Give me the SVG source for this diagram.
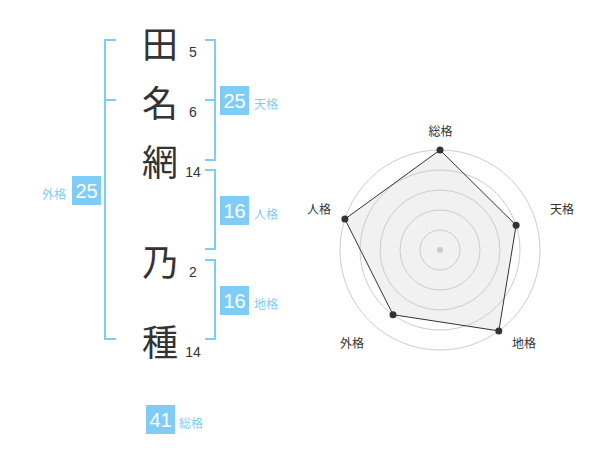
<svg xmlns="http://www.w3.org/2000/svg" width="600" height="470" viewBox="0 0 600 470">
<style>
.br{fill:none;stroke:#7fcdf6;stroke-width:2}
.box{fill:#7fcdf6}
.bn{font-family:"Liberation Sans",Arial,sans-serif;font-size:20px;fill:#fff;text-anchor:middle;dominant-baseline:central}
.lb{font-family:"Noto Sans CJK JP","Noto Sans CJK SC",sans-serif;font-size:12px;fill:#7fcdf6;dominant-baseline:central}
.ch{font-family:"Noto Sans CJK JP","Noto Sans CJK SC",sans-serif;font-size:36px;fill:#333;text-anchor:middle;dominant-baseline:central}
.st{font-family:"Liberation Sans",Arial,sans-serif;font-size:14px;fill:#333;text-anchor:middle}
.ring{fill:none;stroke:#cccccc;stroke-width:1}
.rl{font-family:"Noto Sans CJK JP","Noto Sans CJK SC",sans-serif;font-size:12px;fill:#333;text-anchor:middle;dominant-baseline:central}
.pt{fill:#333}
</style>
<rect width="600" height="470" fill="#fff"/>
<g id="connectors">
<path class="br" d="M116,40 H105 V339 H116 M105,100 H116"/>
<path class="br" d="M205,40 H215 V160 H205 M205,100 H215"/>
<path class="br" d="M205,170 H215 V249 H205"/>
<path class="br" d="M205,260 H215 V339 H205"/>
</g>
<g id="char-1"><text class="ch" x="160" y="42">田</text><text class="st" x="193" y="57">5</text></g>
<g id="char-2"><text class="ch" x="160" y="101">名</text><text class="st" x="193" y="117">6</text></g>
<g id="char-3"><text class="ch" x="160" y="160">網</text><text class="st" x="193" y="177">14</text></g>
<g id="char-4"><text class="ch" x="160" y="260">乃</text><text class="st" x="193" y="277">2</text></g>
<g id="char-5"><text class="ch" x="160" y="340">種</text><text class="st" x="193" y="357">14</text></g>
<g id="tenkaku"><rect class="box" x="220" y="86" width="29" height="29"/><text class="bn" x="234.5" y="101">25</text><text class="lb" x="254" y="103">天格</text></g>
<g id="jinkaku"><rect class="box" x="220" y="196" width="29" height="29"/><text class="bn" x="234.5" y="211">16</text><text class="lb" x="254" y="213">人格</text></g>
<g id="chikaku"><rect class="box" x="220" y="286" width="29" height="29"/><text class="bn" x="234.5" y="301">16</text><text class="lb" x="254" y="303">地格</text></g>
<g id="gaikaku"><rect class="box" x="72" y="176" width="29" height="29"/><text class="bn" x="86.5" y="191">25</text><text class="lb" x="66" y="193" text-anchor="end">外格</text></g>
<g id="soukaku"><rect class="box" x="146" y="405" width="29" height="29"/><text class="bn" x="160.5" y="420">41</text><text class="lb" x="179" y="422">総格</text></g>
<g id="radar">
<polygon points="440,150 516.1,225.3 498.8,330.9 393,314.7 344.9,219.1" fill="#f1f1f1" stroke="none"/>
<circle class="ring" cx="440" cy="250" r="100"/>
<circle class="ring" cx="440" cy="250" r="80"/>
<circle class="ring" cx="440" cy="250" r="60"/>
<circle class="ring" cx="440" cy="250" r="40"/>
<circle class="ring" cx="440" cy="250" r="20"/>
<polygon points="440,150 516.1,225.3 498.8,330.9 393,314.7 344.9,219.1" fill="none" stroke="#333" stroke-width="1"/>
<circle cx="440" cy="250" r="3" fill="#c8c8c8"/>
<circle class="pt" cx="440" cy="150" r="3.5"/>
<circle class="pt" cx="516.1" cy="225.3" r="3.5"/>
<circle class="pt" cx="498.8" cy="330.9" r="3.5"/>
<circle class="pt" cx="393" cy="314.7" r="3.5"/>
<circle class="pt" cx="344.9" cy="219.1" r="3.5"/>
<text class="rl" x="440.5" y="130">総格</text>
<text class="rl" x="562" y="208">天格</text>
<text class="rl" x="524" y="342">地格</text>
<text class="rl" x="352" y="342">外格</text>
<text class="rl" x="319" y="208">人格</text>
</g>
</svg>
